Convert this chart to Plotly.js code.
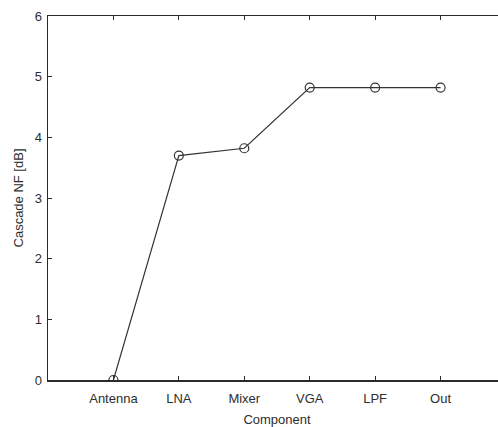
<!DOCTYPE html>
<html>
<head>
<meta charset="utf-8">
<script src="https://cdn.plot.ly/plotly-3.0.1.min.js"></script>
<style>
  html, body { margin: 0; padding: 0; overflow: hidden; background: #ffffff; }
  #chart { width: 520px; height: 427px; }
</style>
</head>
<body>
<div id="chart"></div>
<script>
// Receiver chain stages and cascaded noise figure after each stage
const components = ['Antenna', 'LNA', 'Mixer', 'VGA', 'LPF', 'Out'];
const cascadeNF = [0, 3.70, 3.82, 4.82, 4.82, 4.82];
const yTicks = [0, 1, 2, 3, 4, 5, 6];

const axisColor = '#2a2a2a';
const textFont = { family: 'Liberation Sans, Arial, sans-serif', size: 13, color: '#2e2e2e' };

const trace = {
  x: components,
  y: cascadeNF,
  type: 'scatter',
  mode: 'lines+markers',
  line: { color: '#333333', width: 1.2 },
  marker: { symbol: 'circle-open', size: 9, color: '#333333', line: { width: 1.2, color: '#333333' } },
  hoverinfo: 'x+y',
  showlegend: false
};

const layout = {
  width: 520,
  height: 427,
  margin: { l: 48, r: 14, t: 16, b: 47 },
  paper_bgcolor: '#ffffff',
  plot_bgcolor: '#ffffff',
  font: textFont,
  xaxis: {
    type: 'category',
    range: [-1, components.length],
    showgrid: false,
    zeroline: false,
    showline: true,
    linecolor: axisColor,
    linewidth: 1.5,
    mirror: 'ticks',
    ticks: 'inside',
    ticklen: 4,
    tickwidth: 1,
    tickcolor: axisColor,
    ticklabelstandoff: 6,
    tickfont: textFont,
    title: { text: 'Component', font: textFont, standoff: 14 }
  },
  yaxis: {
    range: [0, 6],
    tickvals: yTicks,
    showgrid: false,
    zeroline: false,
    showline: true,
    linecolor: axisColor,
    linewidth: 1.5,
    mirror: 'ticks',
    ticks: 'inside',
    ticklen: 4,
    tickwidth: 1,
    tickcolor: axisColor,
    ticklabelstandoff: 2,
    tickfont: textFont,
    title: { text: 'Cascade NF [dB]', font: textFont, standoff: 8 }
  }
};

Plotly.newPlot('chart', [trace], layout, { displayModeBar: false, staticPlot: true });
</script>
</body>
</html>
